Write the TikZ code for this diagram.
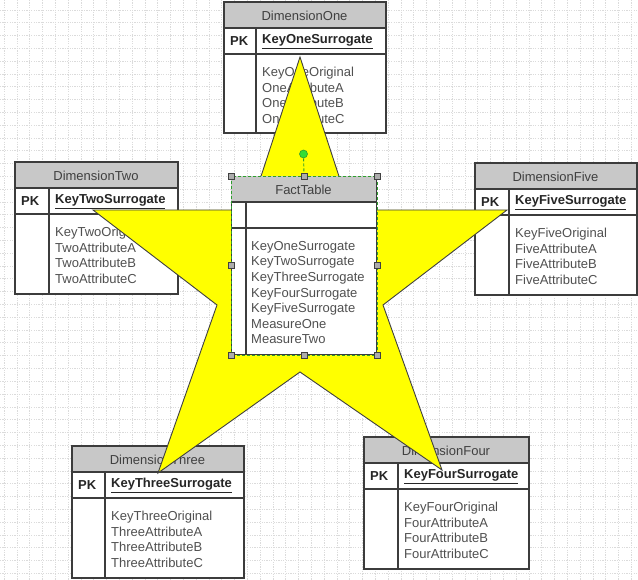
\documentclass[tikz,border=0pt]{standalone}
\usepackage{fontspec}
\setmainfont{Liberation Sans}
\definecolor{tblgray}{HTML}{3C3C3C}
\definecolor{hdrfill}{HTML}{C8C8C8}
\definecolor{hdrtext}{HTML}{404040}
\definecolor{bodytext}{HTML}{505050}
\definecolor{staryellow}{HTML}{FFFF00}
\definecolor{selgreen}{HTML}{2E9E2E}
\definecolor{rotgreen}{HTML}{33DD33}
\tikzset{
  tblbox/.style={draw=tblgray, line width=1.1pt, fill=white, inner sep=0pt, anchor=north west},
  tblline/.style={draw=tblgray, line width=1.1pt},
  hdrtxt/.style={text=hdrtext, font=\fontsize{13}{15.6}\selectfont, inner sep=0pt},
  pktxt/.style={font=\fontsize{13}{15.6}\selectfont\bfseries, text=black!85, inner sep=0pt, anchor=west},
  bodytxt/.style={font=\fontsize{13}{15.6}\selectfont, text=bodytext, inner sep=0pt, anchor=north west, align=left},
  gridline/.style={draw=black!14, line width=0.6pt, dash pattern=on 1.2pt off 1.2pt},
  starshape/.style={fill=staryellow, draw=black!75, line width=0.9pt, line join=miter},
  handle/.style={draw=black!75, fill=gray!65, minimum size=6pt, inner sep=0pt, line width=0.6pt},
  selbox/.style={draw=selgreen, line width=0.9pt, dash pattern=on 3pt off 2pt},
  rothandle/.style={circle, draw=selgreen, fill=rotgreen, minimum size=8pt, inner sep=0pt, line width=0.6pt},
}
\newcommand{\dimtab}[9]{%
  \node[tblbox, minimum width={(#4-#2)*1pt}, minimum height={(#5-#3)*1pt}] (#1) at (#2,#3) {};
  \fill[hdrfill] (#2,#3) rectangle (#4,{#3+26});
  \draw[tblline] (#2,{#3+26}) -- (#4,{#3+26});
  \draw[tblline] (#2,{#3+52}) -- (#4,{#3+52});
  \draw[tblline] (#6,{#3+26}) -- (#6,#5);
  \draw[tblline] (#1.north west) rectangle (#1.south east);
  \node[hdrtxt] (#1-title) at ({(#2+#4)/2},{#3+13.5}) {#7};
  \node[pktxt] (#1-pk) at ({#2+6},{#3+39.5}) {PK};
  \node[pktxt] (#1-key) at ({#6+6},{#3+39.5}) {\underline{#8}};
  \node[bodytxt] (#1-attrs) at ({#6+6},{#3+65}) {#9};
}
\begin{document}
\begin{tikzpicture}[x=1pt,y=-1pt]
\useasboundingbox (0,0) rectangle (638,580);
\fill[white] (0,0) rectangle (638,580);
% background grid
\foreach \gx in {4,16.8,...,638} {\draw[gridline] (\gx,0) -- (\gx,580);}
\foreach \gy in {10,22.8,...,580} {\draw[gridline] (0,\gy) -- (638,\gy);}
% dimension tables
\dimtab{dimone}{224}{2}{385}{132}{256}{DimensionOne}{KeyOneSurrogate}{KeyOneOriginal\\OneAttributeA\\OneAttributeB\\OneAttributeC}
\dimtab{dimtwo}{15}{162}{177}{293}{49}{DimensionTwo}{KeyTwoSurrogate}{KeyTwoOriginal\\TwoAttributeA\\TwoAttributeB\\TwoAttributeC}
\dimtab{dimfive}{475}{163}{636}{294}{509}{DimensionFive}{KeyFiveSurrogate}{KeyFiveOriginal\\FiveAttributeA\\FiveAttributeB\\FiveAttributeC}
\dimtab{dimthree}{72}{446}{243}{577}{105}{DimensionThree}{KeyThreeSurrogate}{KeyThreeOriginal\\ThreeAttributeA\\ThreeAttributeB\\ThreeAttributeC}
\dimtab{dimfour}{364}{437}{528}{568}{398}{DimensionFour}{KeyFourSurrogate}{KeyFourOriginal\\FourAttributeA\\FourAttributeB\\FourAttributeC}
% star
\coordinate (sT) at (300,57);
\coordinate (sI1) at (350,210);
\coordinate (sR) at (507,210);
\coordinate (sI2) at (383,305);
\coordinate (sBR) at (442,470);
\coordinate (sI3) at (300,372);
\coordinate (sBL) at (158,473);
\coordinate (sI4) at (217,305);
\coordinate (sL) at (93,210);
\coordinate (sI5) at (250,210);
\draw[starshape] (sT) -- (sI1) -- (sR) -- (sI2) -- (sBR) -- (sI3) -- (sBL) -- (sI4) -- (sL) -- (sI5) -- cycle;
% fact table
\node[tblbox, minimum width=145pt, minimum height=178pt] (fact) at (231,176) {};
\fill[hdrfill] (231,176) rectangle (376,202);
\draw[tblline] (231,202) -- (376,202);
\draw[tblline] (231,228) -- (376,228);
\draw[tblline] (246,202) -- (246,354);
\node[hdrtxt] (fact-title) at (303.5,189.5) {FactTable};
\node[bodytxt] (fact-attrs) at (251,241) {KeyOneSurrogate\\KeyTwoSurrogate\\KeyThreeSurrogate\\KeyFourSurrogate\\KeyFiveSurrogate\\MeasureOne\\MeasureTwo};
% selection overlay
\draw[selbox] (fact.north west) rectangle (fact.south east);
\node[rothandle] (rot) at (303.5,154) {};
\draw[selbox] (rot) -- (fact.north);
\foreach \hp in {north west,north,north east,west,east,south west,south,south east}
  {\node[handle] at (fact.\hp) {};}
\end{tikzpicture}
\end{document}
